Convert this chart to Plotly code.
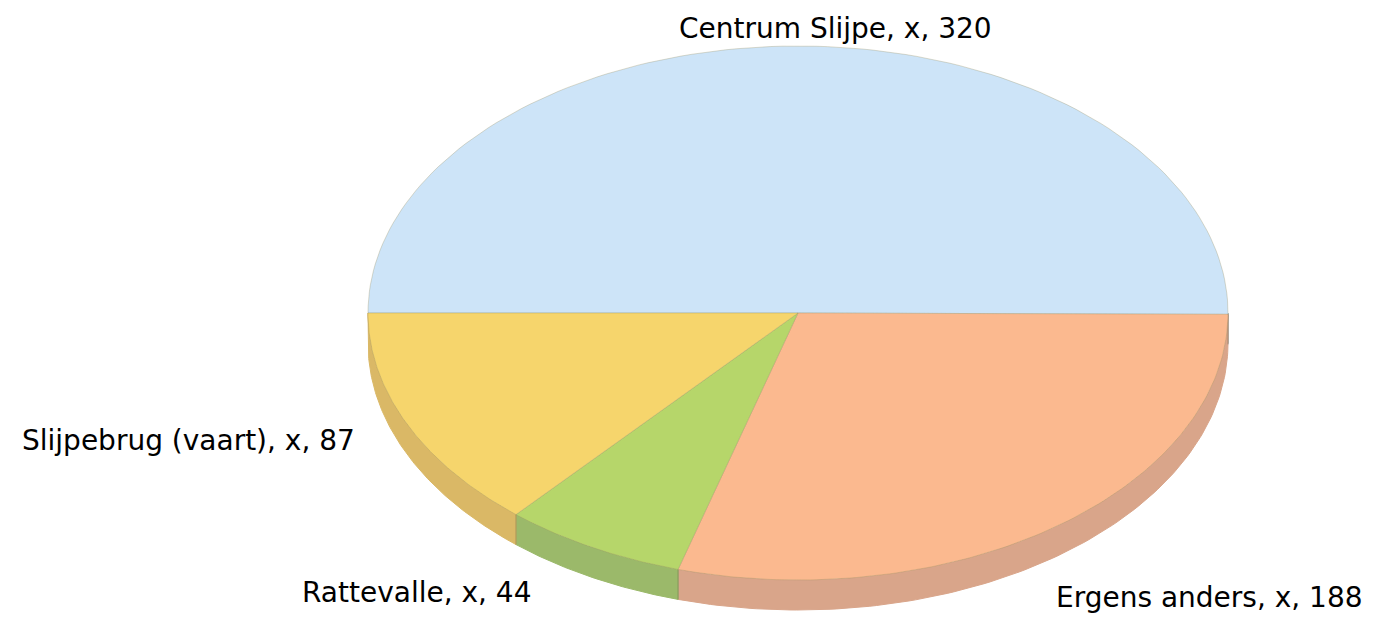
import numpy as np
import plotly.graph_objects as go

# slice data (clockwise from 9 o'clock)
labels = ["Centrum Slijpe", "Ergens anders", "Rattevalle", "Slijpebrug (vaart)"]
values = [320, 188, 44, 87]
top_colors = ["#cde4f8", "#fbb98f", "#b6d66a", "#f6d56c"]
side_colors = ["#b9cfe0", "#d9a58a", "#9bb96a", "#dab866"]

W, H = 1374, 617
OFF = 8  # page body margin in the written html
cx, cy = 798, 313
rx, ry = 430, 267
depth = 30

total = sum(values)
start = 180.0
angles = []
for v in values:
    span = 360.0 * v / total
    angles.append((start, start + span))
    start += span


def arc(a0, a1, dy=0, n=120):
    t = np.radians(np.linspace(a0, a1, n))
    return cx + rx * np.cos(t), cy + ry * np.sin(t) + dy


fig = go.Figure()

# sides (only visible on the front half, 0..180 deg screen-down)
for (a0, a1), col in zip(angles, side_colors):
    for off in (0, 360):
        s0, s1 = max(a0 - off, 0), min(a1 - off, 180)
        if s1 <= s0:
            continue
        x1, y1 = arc(s0, s1)
        x2, y2 = arc(s1, s0, depth)
        fig.add_trace(go.Scatter(
            x=np.concatenate([x1, x2, x1[:1]]), y=np.concatenate([y1, y2, y1[:1]]),
            mode="lines", fill="toself", fillcolor=col,
            line=dict(color=col, width=1), hoverinfo="skip", showlegend=False))
        # darker separator at slice edges on the side
        fig.add_trace(go.Scatter(
            x=[x1[0], x2[-1]], y=[y1[0], y2[-1]], mode="lines",
            line=dict(color="rgba(90,90,60,0.35)", width=1),
            hoverinfo="skip", showlegend=False))

# top faces
for (a0, a1), col, lab, v in zip(angles, top_colors, labels, values):
    x, y = arc(a0, a1)
    fig.add_trace(go.Scatter(
        x=np.concatenate([[cx], x, [cx]]), y=np.concatenate([[cy], y, [cy]]),
        mode="lines", fill="toself", fillcolor=col,
        line=dict(color="rgba(150,140,90,0.3)", width=1),
        name=lab, text=f"{lab}, x, {v}", hoverinfo="text", showlegend=False))

# labels
font = dict(family="DejaVu Sans", size=28, color="#000000")
label_pos = [(835, 28, "center"), (1365, 597, "right"), (300, 592, "left"), (357, 440, "right")]
for lab, v, (lx, ly, al) in zip(labels, values, label_pos):
    fig.add_annotation(x=lx, y=ly, text=f"{lab}, x, {v}", showarrow=False,
                       xanchor=al, yanchor="middle", font=font)

fig.update_layout(
    width=W, height=H,
    margin=dict(l=0, r=0, t=0, b=0),
    paper_bgcolor="white", plot_bgcolor="white",
    xaxis=dict(range=[OFF, W + OFF], visible=False, fixedrange=True),
    yaxis=dict(range=[H + OFF, OFF], visible=False, fixedrange=True),
)

fig.write_html("out.html")
